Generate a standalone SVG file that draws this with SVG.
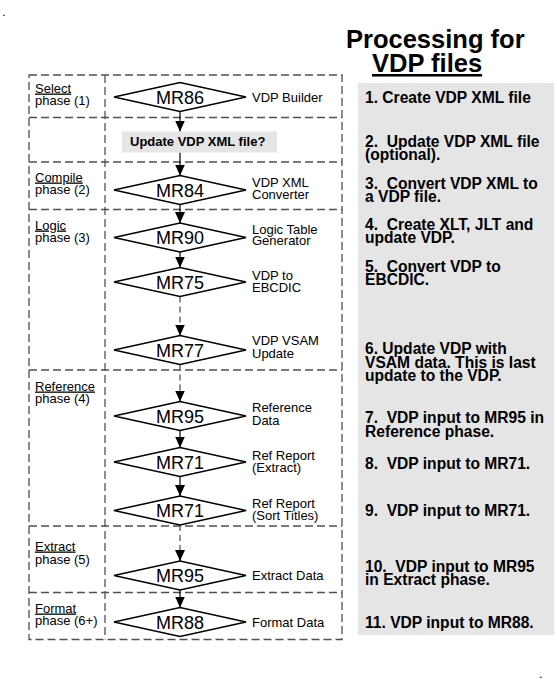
<svg xmlns="http://www.w3.org/2000/svg" width="557" height="690" viewBox="0 0 557 690">
<defs>
<marker id="ah" markerWidth="12" markerHeight="10" refX="11" refY="5" orient="auto" markerUnits="userSpaceOnUse">
<path d="M0,0 L11,5 L0,10 Z" fill="#000"/>
</marker>
</defs>
<style>
.dash{fill:none;stroke:#505050;stroke-width:1.3;stroke-dasharray:8,4}
.dia{fill:#fff;stroke:#000;stroke-width:1.5}
.mr{font-family:"Liberation Sans",Arial,sans-serif;font-size:18px;fill:#000;text-anchor:middle}
.lbl{font-family:"Liberation Sans",Arial,sans-serif;font-size:13px;fill:#000}
.ph{font-family:"Liberation Sans",Arial,sans-serif;font-size:13px;fill:#000}
.u{text-decoration:underline}
.pt{font-family:"Liberation Sans",Arial,sans-serif;font-size:15.6px;font-weight:bold;fill:#000;white-space:pre}
.ttl{font-family:"Liberation Sans",Arial,sans-serif;font-size:25.5px;font-weight:bold;fill:#000}
.c{stroke:#000;stroke-width:1.2;fill:none}
.cd{stroke:#555;stroke-width:1.3;fill:none;stroke-dasharray:6,4}
</style>
<rect width="557" height="690" fill="#fff"/>
<text x="2" y="16" class="lbl">.</text>
<text x="539" y="678" class="lbl">.</text>

<g id="title">
<text x="346" y="48" class="ttl">Processing for</text>
<text x="372" y="72" class="ttl u">VDP files</text>
</g>

<g id="panel">
<rect x="358" y="83" width="196" height="552" fill="#e5e5e5"/>
<text class="pt" x="365" y="102.5">1. Create VDP XML file</text>
<text class="pt" x="365" y="147">2.  Update VDP XML file<tspan x="365" dy="13">(optional).</tspan></text>
<text class="pt" x="365" y="189">3.  Convert VDP XML to<tspan x="365" dy="13">a VDP file.</tspan></text>
<text class="pt" x="365" y="230">4.  Create XLT, JLT and<tspan x="365" dy="13">update VDP.</tspan></text>
<text class="pt" x="365" y="272">5.  Convert VDP to<tspan x="365" dy="13">EBCDIC.</tspan></text>
<text class="pt" x="365" y="354">6. Update VDP with<tspan x="365" dy="13.5">VSAM data. This is last</tspan><tspan x="365" dy="13.5">update to the VDP.</tspan></text>
<text class="pt" x="365" y="423">7.  VDP input to MR95 in<tspan x="365" dy="13.5">Reference phase.</tspan></text>
<text class="pt" x="365" y="469">8.  VDP input to MR71.</text>
<text class="pt" x="365" y="516">9.  VDP input to MR71.</text>
<text class="pt" x="365" y="572">10.  VDP input to MR95<tspan x="365" dy="13">in Extract phase.</tspan></text>
<text class="pt" x="365" y="628">11. VDP input to MR88.</text>
</g>

<g id="phases">
<rect x="29" y="75" width="313" height="564.5" class="dash"/>
<line x1="105" y1="75" x2="105" y2="639.5" class="dash"/>
<line x1="29" y1="117.5" x2="342" y2="117.5" class="dash"/>
<line x1="29" y1="162" x2="342" y2="162" class="dash"/>
<line x1="29" y1="209.5" x2="342" y2="209.5" class="dash"/>
<line x1="29" y1="370" x2="342" y2="370" class="dash"/>
<line x1="29" y1="526" x2="342" y2="526" class="dash"/>
<line x1="29" y1="592.5" x2="342" y2="592.5" class="dash"/>
<text class="ph" x="35" y="92.5"><tspan class="u">Select</tspan><tspan x="35" dy="12">phase (1)</tspan></text>
<text class="ph" x="35" y="181.5"><tspan class="u">Compile</tspan><tspan x="35" dy="12.5">phase (2)</tspan></text>
<text class="ph" x="35" y="229.5"><tspan class="u">Logic</tspan><tspan x="35" dy="12.5">phase (3)</tspan></text>
<text class="ph" x="35" y="390.5"><tspan class="u">Reference</tspan><tspan x="35" dy="12">phase (4)</tspan></text>
<text class="ph" x="35" y="550.5"><tspan class="u">Extract</tspan><tspan x="35" dy="13">phase (5)</tspan></text>
<text class="ph" x="35" y="612.5"><tspan class="u">Format</tspan><tspan x="35" dy="12.5">phase (6+)</tspan></text>
</g>

<g id="connectors">
<line x1="180" y1="111.5" x2="180" y2="131.5" class="c" marker-end="url(#ah)"/>
<line x1="180" y1="152.5" x2="180" y2="175.5" class="c" marker-end="url(#ah)"/>
<line x1="180" y1="204.5" x2="180" y2="223" class="c" marker-end="url(#ah)"/>
<line x1="180" y1="252" x2="180" y2="267.5" class="c" marker-end="url(#ah)"/>
<line x1="180" y1="296.5" x2="180" y2="326" class="cd"/>
<line x1="180" y1="325" x2="180" y2="335.5" class="c" marker-end="url(#ah)"/>
<line x1="180" y1="364.5" x2="180" y2="392" class="cd"/>
<line x1="180" y1="391" x2="180" y2="401.5" class="c" marker-end="url(#ah)"/>
<line x1="180" y1="430.5" x2="180" y2="447.5" class="c" marker-end="url(#ah)"/>
<line x1="180" y1="476.5" x2="180" y2="496" class="c" marker-end="url(#ah)"/>
<line x1="180" y1="525" x2="180" y2="551" class="cd"/>
<line x1="180" y1="550" x2="180" y2="561" class="c" marker-end="url(#ah)"/>
<line x1="180" y1="590" x2="180" y2="607.5" class="c" marker-end="url(#ah)"/>
</g>

<g id="update">
<rect x="122" y="131.5" width="155" height="21" fill="#e5e5e5"/>
<text x="130" y="146" style="font-family:'Liberation Sans',Arial,sans-serif;font-size:13px;font-weight:bold">Update VDP XML file?</text>
</g>

<g id="mr86">
<polygon class="dia" points="114,97 180,82.5 246,97 180,111.5"/>
<text class="mr" x="180" y="103.5">MR86</text>
<text class="lbl" x="252" y="101.5">VDP Builder</text>
</g>
<g id="mr84">
<polygon class="dia" points="114,190 180,175.5 246,190 180,204.5"/>
<text class="mr" x="180" y="196.5">MR84</text>
<text class="lbl" x="252" y="187">VDP XML<tspan x="252" dy="11.5">Converter</tspan></text>
</g>
<g id="mr90">
<polygon class="dia" points="114,237.5 180,223 246,237.5 180,252"/>
<text class="mr" x="180" y="244">MR90</text>
<text class="lbl" x="252" y="233.5">Logic Table<tspan x="252" dy="11.5">Generator</tspan></text>
</g>
<g id="mr75">
<polygon class="dia" points="114,282 180,267.5 246,282 180,296.5"/>
<text class="mr" x="180" y="288.5">MR75</text>
<text class="lbl" x="252" y="280">VDP to<tspan x="252" dy="11.5">EBCDIC</tspan></text>
</g>
<g id="mr77">
<polygon class="dia" points="114,350 180,335.5 246,350 180,364.5"/>
<text class="mr" x="180" y="356.5">MR77</text>
<text class="lbl" x="252" y="345">VDP VSAM<tspan x="252" dy="12.5">Update</tspan></text>
</g>
<g id="mr95a">
<polygon class="dia" points="114,416 180,401.5 246,416 180,430.5"/>
<text class="mr" x="180" y="422.5">MR95</text>
<text class="lbl" x="252" y="412">Reference<tspan x="252" dy="13">Data</tspan></text>
</g>
<g id="mr71a">
<polygon class="dia" points="114,462 180,447.5 246,462 180,476.5"/>
<text class="mr" x="180" y="468.5">MR71</text>
<text class="lbl" x="252" y="460">Ref Report<tspan x="252" dy="12">(Extract)</tspan></text>
</g>
<g id="mr71b">
<polygon class="dia" points="114,510.5 180,496 246,510.5 180,525"/>
<text class="mr" x="180" y="517">MR71</text>
<text class="lbl" x="252" y="507.5">Ref Report<tspan x="252" dy="12">(Sort Titles)</tspan></text>
</g>
<g id="mr95b">
<polygon class="dia" points="114,575.5 180,561 246,575.5 180,590"/>
<text class="mr" x="180" y="582">MR95</text>
<text class="lbl" x="252" y="580">Extract Data</text>
</g>
<g id="mr88">
<polygon class="dia" points="114,622 180,607.5 246,622 180,636.5"/>
<text class="mr" x="180" y="628.5">MR88</text>
<text class="lbl" x="252" y="626.5">Format Data</text>
</g>
</svg>
